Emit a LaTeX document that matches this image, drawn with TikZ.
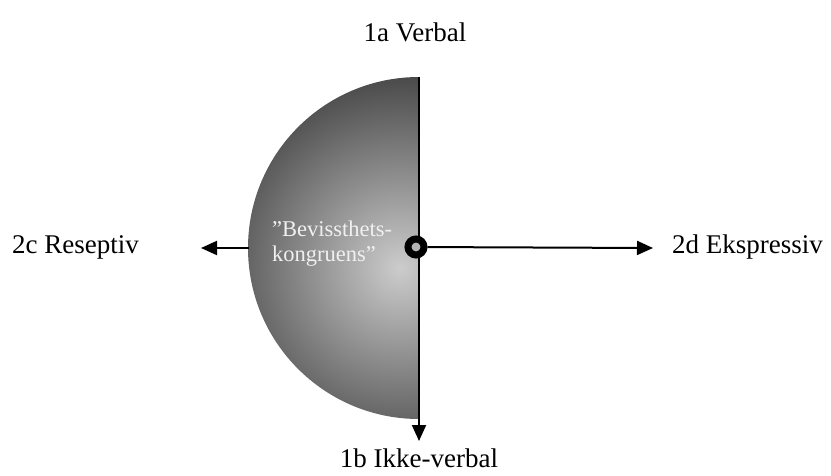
\documentclass[tikz,border=0pt]{standalone}
\usepackage{fontspec}
\setmainfont{Liberation Serif}
\usetikzlibrary{arrows.meta}
\begin{document}
\begin{tikzpicture}[x=1pt,y=-1pt,
  lbl/.style={font=\fontsize{27}{31}\selectfont, inner sep=0pt},
  axis/.style={line width=2pt},
  arr/.style={axis,-{Triangle[length=16pt,width=14pt]}}]
\useasboundingbox (0,0) rectangle (831,475);
% half disc with shading
\begin{scope}
  \clip (419,77) arc[start angle=270,end angle=90,radius=171] -- cycle;
  \shade[inner color=black!20, outer color=black!72] (400,268) circle (195);
\end{scope}
\coordinate (top) at (419,77);
\coordinate (bot) at (419,441);
\coordinate (lefte) at (249,248);
\coordinate (leftt) at (201,248);
\coordinate (rightt) at (653,248);
\draw[arr] (top) -- (bot);
\node[circle, draw=black, line width=7pt, fill=black!30, minimum size=16pt, inner sep=0pt] (c) at (416,247) {};
\draw[arr] (c) -- (rightt);
\draw[arr] (lefte) -- (leftt);
\node[lbl] (v) at (415,32) {1a Verbal};
\node[lbl] (ib) at (419,458) {1b Ikke-verbal};
\node[lbl, anchor=west] (r) at (12,247) {2c Reseptiv};
\node[lbl, anchor=west] (e) at (672,247) {2d Ekspressiv};
\node[inner sep=0pt, text=black!6, align=left, anchor=west, font=\fontsize{22.5}{25}\selectfont] (bk) at (272,244) {”Bevissthets-\\kongruens”};
\end{tikzpicture}
\end{document}
